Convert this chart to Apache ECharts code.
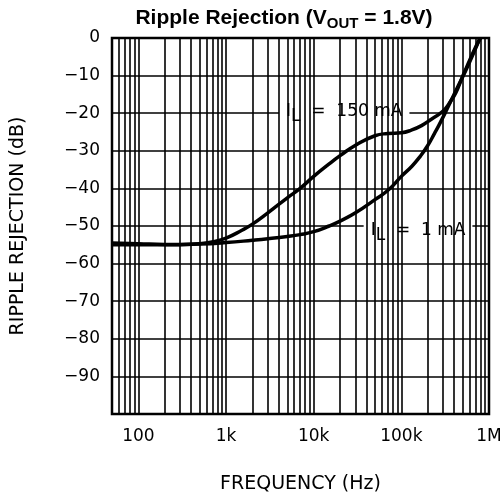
<!DOCTYPE html>
<html>
<head>
  <meta charset="UTF-8">
  <title>Ripple Rejection</title>
  <script src="https://cdn.jsdelivr.net/npm/echarts@6/dist/echarts.min.js"></script>
  <style>
    html, body { margin: 0; padding: 0; background: #fff; }
    #chart { width: 500px; height: 503px; }
  </style>
</head>
<body>
  <div id="chart"></div>
  <script>
    // frequency (Hz), rejection (dB)
    const load150mA = [
      [50, -54.5], [100, -54.7], [200, -54.9], [300, -54.9], [500, -54.7],
      [700, -54.2], [1000, -53.2], [1500, -51.2], [2000, -49.5], [3000, -46.5],
      [5000, -42.5], [7000, -40], [10000, -36.8], [15000, -33.5], [20000, -31.3],
      [30000, -28.5], [50000, -26], [70000, -25.4], [100000, -25.2], [130000, -24.5],
      [170000, -23.3], [220000, -21.6], [280000, -20], [320000, -18.7], [360000, -17],
      [420000, -14.5], [500000, -10.2], [600000, -6], [700000, -2.5], [800000, 0]
    ];
    const load1mA = [
      [50, -55], [100, -55], [200, -55], [500, -54.8], [1000, -54.4],
      [2000, -53.8], [3000, -53.4], [5000, -52.8], [7000, -52.3], [10000, -51.5],
      [15000, -50], [20000, -48.7], [30000, -46.5], [50000, -43], [72000, -40.3],
      [100000, -36.8], [132000, -34.1], [165000, -31.4], [200000, -28.6], [240000, -25.3],
      [267000, -23.3], [318000, -19.8], [363000, -17], [450000, -12.5], [540000, -8.8],
      [650000, -4.6], [790000, 0]
    ];
    const xTickVals = [100, 1000, 10000, 100000, 1000000];
    const xTickLabels = ['100', '1k', '10k', '100k', '1M'];
    // vertical grid: every 1..9 x decade
    const gridFreqs = [
      60, 70, 80, 90, 100,
      200, 300, 400, 500, 600, 700, 800, 900, 1000,
      2000, 3000, 4000, 5000, 6000, 7000, 8000, 9000, 10000,
      20000, 30000, 40000, 50000, 60000, 70000, 80000, 90000, 100000,
      200000, 300000, 400000, 500000, 600000, 700000, 800000, 900000
    ];
    const curveLabels = [
      { pos: [22300, -19.7], text: 'I{sub|L}  =  150 mA' },
      { pos: [155000, -51.3], text: 'I{sub|L}  =  1 mA' }
    ];

    const font = 'DejaVu Sans';
    const chart = echarts.init(document.getElementById('chart'));

    const option = {
      animation: false,
      title: {
        text: 'Ripple Rejection (V{sub|OUT} = 1.8V)',
        left: 279,
        top: 1,
        textAlign: 'center',
        textStyle: {
          fontFamily: 'Liberation Sans',
          fontWeight: 'bold',
          fontSize: 21,
          color: '#000',
          rich: {
            sub: { fontFamily: 'Liberation Sans', fontWeight: 'bold', fontSize: 15, padding: [10, 0, 0, 0] }
          }
        }
      },
      grid: {
        left: 112, right: 11, top: 38, bottom: 89,
        containLabel: false,
        outerBoundsMode: 'none',
        show: true, borderColor: '#000', borderWidth: 2.5
      },
      xAxis: {
        type: 'log',
        logBase: 10,
        min: 50,
        max: 1000000,
        name: 'FREQUENCY (Hz)',
        nameLocation: 'middle',
        nameGap: 61,
        nameTextStyle: { fontFamily: font, fontSize: 19, color: '#000' },
        axisLine: { show: false },
        axisTick: { show: false },
        splitLine: { show: false },
        axisLabel: {
          margin: 14,
          fontFamily: font,
          fontSize: 17,
          color: '#000',
          showMinLabel: false,
          formatter: function (v) {
            for (let i = 0; i < xTickVals.length; i++) {
              if (Math.abs(Math.log10(v) - Math.log10(xTickVals[i])) < 0.01) return xTickLabels[i];
            }
            return '';
          }
        }
      },
      yAxis: {
        type: 'value',
        min: -100,
        max: 0,
        interval: 10,
        name: 'RIPPLE REJECTION (dB)',
        nameLocation: 'middle',
        nameRotate: 90,
        nameGap: 84,
        nameTextStyle: { fontFamily: font, fontSize: 19, color: '#000' },
        axisLine: { show: false },
        axisTick: { show: false },
        splitLine: { show: true, lineStyle: { color: '#000', width: 1.6 } },
        axisLabel: {
          margin: 12,
          fontFamily: font,
          fontSize: 17,
          color: '#000',
          formatter: function (v) {
            if (v === -100) return '';
            return v < 0 ? '\u2212' + (-v) : String(v);
          }
        }
      },
      series: [
        {
          type: 'line',
          data: [],
          z: 1,
          silent: true,
          markLine: {
            silent: true,
            symbol: ['none', 'none'],
            label: { show: false },
            emphasis: { disabled: true },
            lineStyle: { color: '#000', width: 1.6, type: 'solid', opacity: 1 },
            data: gridFreqs.map(f => ({ xAxis: f }))
          }
        },
        {
          type: 'scatter',
          z: 3,
          symbolSize: 0,
          silent: true,
          data: curveLabels.map(d => ({ value: d.pos, text: d.text })),
          label: {
            show: true,
            position: 'inside',
            formatter: p => p.data.text,
            backgroundColor: '#fff',
            padding: [4, 7, 4, 7],
            color: '#000',
            opacity: 1,
            textBorderWidth: 0,
            fontFamily: font,
            fontSize: 17,
            lineHeight: 22,
            rich: {
              sub: { fontFamily: font, fontSize: 17, color: '#000', textBorderWidth: 0, padding: [10, 0, 0, 0] }
            }
          }
        },
        {
          name: 'IL = 150 mA',
          type: 'line',
          z: 4,
          data: load150mA,
          smooth: 0.5,
          showSymbol: false,
          lineStyle: { color: '#000', width: 3.5 }
        },
        {
          name: 'IL = 1 mA',
          type: 'line',
          z: 4,
          data: load1mA,
          smooth: 0.5,
          showSymbol: false,
          lineStyle: { color: '#000', width: 3.5 }
        }
      ]
    };

    chart.setOption(option);
  </script>
</body>
</html>
